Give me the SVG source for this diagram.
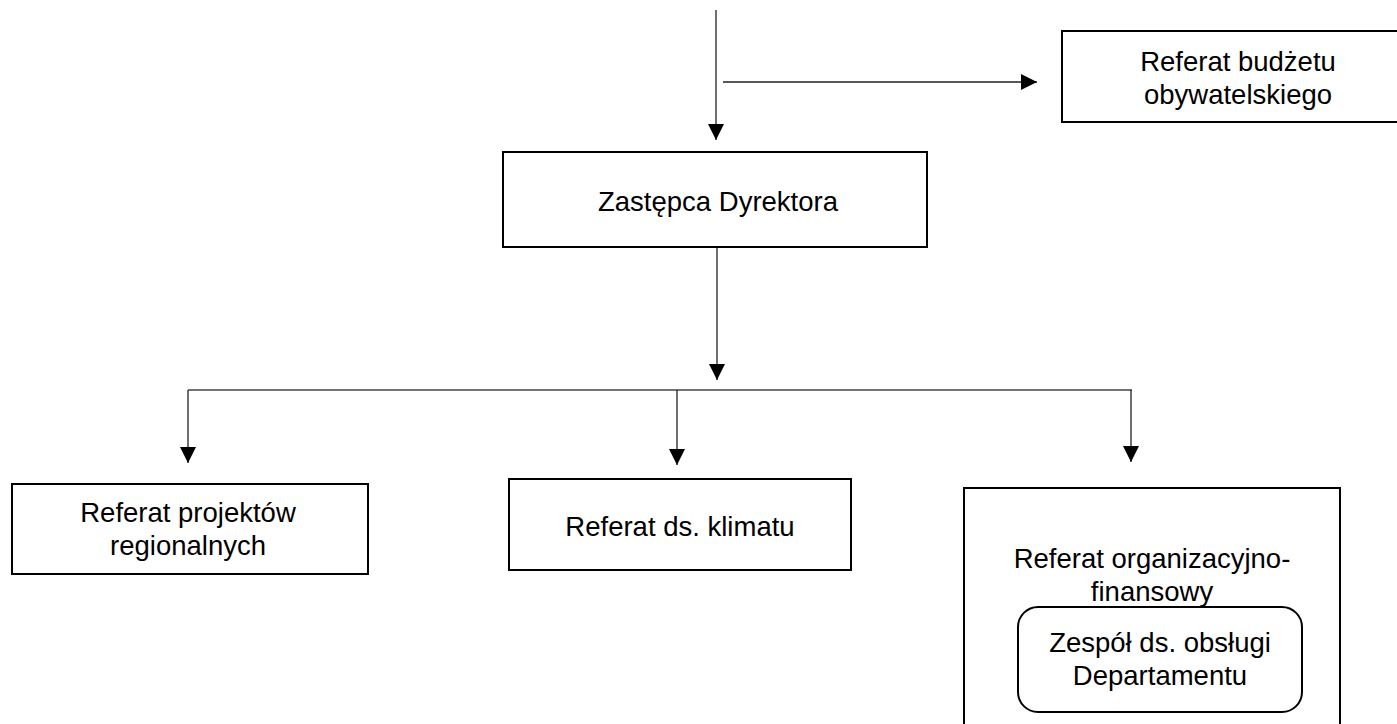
<svg xmlns="http://www.w3.org/2000/svg" width="1397" height="724" viewBox="0 0 1397 724">
<defs>
<style>
.box{fill:#fff;stroke:#000;stroke-width:2}
.t{font-family:"Liberation Sans",Arial,sans-serif;font-size:27.5px;fill:#000;text-anchor:middle}
.c{fill:none;stroke:#222;stroke-width:1.3}
.bar{fill:none;stroke:#444;stroke-width:1.6}
</style>
<marker id="ah" viewBox="0 0 16 16" refX="16" refY="8" markerWidth="16" markerHeight="16" markerUnits="userSpaceOnUse" orient="auto">
<path d="M0,0 L16,8 L0,16 Z" fill="#000"/>
</marker>
</defs>
<rect width="1397" height="724" fill="#fff"/>
<g id="connectors">
<line class="c" x1="716" y1="10" x2="716" y2="140" marker-end="url(#ah)"/>
<line class="c" x1="723" y1="82" x2="1037" y2="82" marker-end="url(#ah)"/>
<line class="c" x1="717" y1="248" x2="717" y2="380" marker-end="url(#ah)"/>
<line class="bar" x1="188" y1="390" x2="1132" y2="390"/>
<line class="c" x1="188" y1="390" x2="188" y2="463" marker-end="url(#ah)"/>
<line class="c" x1="677" y1="390" x2="677" y2="465" marker-end="url(#ah)"/>
<line class="c" x1="1131" y1="390" x2="1131" y2="462" marker-end="url(#ah)"/>
</g>
<g id="n-budzet">
<rect class="box" x="1062" y="31" width="350" height="91"/>
<text class="t" x="1238" y="71">Referat budżetu</text>
<text class="t" x="1238" y="104">obywatelskiego</text>
</g>
<g id="n-zastepca">
<rect class="box" x="503" y="152" width="424" height="95"/>
<text class="t" x="718" y="211">Zastępca Dyrektora</text>
</g>
<g id="n-projekty">
<rect class="box" x="12" y="484" width="356" height="90"/>
<text class="t" x="188" y="522">Referat projektów</text>
<text class="t" x="188" y="555">regionalnych</text>
</g>
<g id="n-klimat">
<rect class="box" x="509" y="479" width="342" height="91"/>
<text class="t" x="680" y="536">Referat ds. klimatu</text>
</g>
<g id="n-orgfin">
<rect class="box" x="964" y="488" width="376" height="250"/>
<text class="t" x="1152" y="568">Referat organizacyjno-</text>
<text class="t" x="1152" y="601">finansowy</text>
</g>
<g id="n-zespol">
<rect class="box" x="1018" y="607" width="284" height="105" rx="20" ry="20"/>
<text class="t" x="1160" y="652">Zespół ds. obsługi</text>
<text class="t" x="1160" y="685">Departamentu</text>
</g>
</svg>
